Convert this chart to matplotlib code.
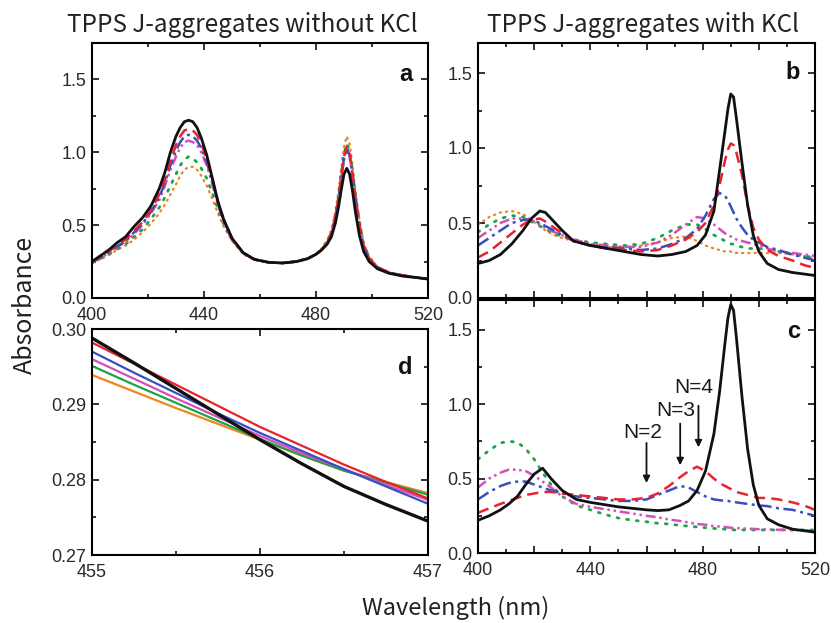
import matplotlib
matplotlib.use("Agg")
import matplotlib.pyplot as plt
from matplotlib.ticker import MultipleLocator, FuncFormatter

plt.rcParams["font.family"] = ["Liberation Sans", "DejaVu Sans"]

# ---- data ----
series_names = ["black", "red", "blue", "magenta", "green", "orange"]

# panel a : without KCl
wl_a = [400, 403, 406, 409, 412, 415, 418, 421, 424, 426,
        428, 430, 431.5, 433, 434.5, 436, 437.5, 439, 441, 443,
        445, 447, 450, 454, 458, 463, 468, 473, 477, 480,
        482, 484, 485.5, 487, 488, 489, 490, 491, 492, 493,
        494, 495.5, 497, 499, 502, 506, 511, 516, 520]
a_black = [0.25, 0.29, 0.33, 0.38, 0.42, 0.49, 0.55, 0.63, 0.75, 0.86,
           1.00, 1.11, 1.17, 1.21, 1.22, 1.21, 1.17, 1.10, 0.98, 0.82,
           0.66, 0.54, 0.41, 0.31, 0.265, 0.245, 0.24, 0.25, 0.27, 0.30,
           0.33, 0.37, 0.42, 0.52, 0.62, 0.74, 0.85, 0.89, 0.85, 0.74,
           0.60, 0.43, 0.32, 0.25, 0.20, 0.17, 0.15, 0.14, 0.13]
a_red = [0.25, 0.285, 0.32, 0.365, 0.40, 0.46, 0.52, 0.60, 0.71, 0.81,
         0.94, 1.05, 1.11, 1.15, 1.16, 1.15, 1.12, 1.06, 0.95, 0.81,
         0.66, 0.54, 0.41, 0.31, 0.265, 0.245, 0.24, 0.25, 0.27, 0.30,
         0.33, 0.38, 0.44, 0.56, 0.68, 0.83, 0.97, 1.04, 0.99, 0.86,
         0.70, 0.50, 0.36, 0.27, 0.21, 0.175, 0.155, 0.14, 0.13]
a_blue = [0.25, 0.28, 0.315, 0.355, 0.39, 0.45, 0.51, 0.59, 0.69, 0.79,
          0.91, 1.01, 1.07, 1.11, 1.12, 1.11, 1.08, 1.03, 0.93, 0.80,
          0.65, 0.53, 0.41, 0.31, 0.265, 0.245, 0.24, 0.25, 0.27, 0.30,
          0.33, 0.38, 0.44, 0.56, 0.68, 0.82, 0.96, 1.03, 0.98, 0.85,
          0.70, 0.50, 0.36, 0.27, 0.21, 0.175, 0.155, 0.14, 0.13]
a_magenta = [0.245, 0.275, 0.31, 0.35, 0.385, 0.44, 0.50, 0.58, 0.67, 0.77,
             0.88, 0.97, 1.03, 1.07, 1.08, 1.07, 1.05, 1.00, 0.91, 0.78,
             0.64, 0.52, 0.40, 0.31, 0.265, 0.245, 0.24, 0.25, 0.27, 0.30,
             0.33, 0.38, 0.44, 0.56, 0.67, 0.81, 0.95, 1.02, 0.97, 0.85,
             0.70, 0.50, 0.36, 0.27, 0.21, 0.175, 0.155, 0.14, 0.13]
a_green = [0.24, 0.27, 0.30, 0.335, 0.37, 0.42, 0.47, 0.54, 0.62, 0.69,
           0.77, 0.85, 0.91, 0.95, 0.97, 0.96, 0.93, 0.89, 0.82, 0.72,
           0.61, 0.51, 0.40, 0.31, 0.265, 0.245, 0.24, 0.25, 0.27, 0.30,
           0.33, 0.39, 0.45, 0.58, 0.70, 0.85, 0.99, 1.06, 1.01, 0.88,
           0.72, 0.52, 0.37, 0.28, 0.21, 0.175, 0.155, 0.14, 0.13]
a_orange = [0.24, 0.265, 0.295, 0.33, 0.36, 0.40, 0.45, 0.51, 0.58, 0.64,
            0.71, 0.78, 0.84, 0.88, 0.90, 0.90, 0.88, 0.84, 0.77, 0.68,
            0.58, 0.49, 0.39, 0.30, 0.26, 0.245, 0.24, 0.25, 0.27, 0.30,
            0.34, 0.40, 0.47, 0.60, 0.73, 0.89, 1.04, 1.11, 1.06, 0.92,
            0.75, 0.54, 0.38, 0.28, 0.215, 0.175, 0.155, 0.14, 0.13]

# panel b : with KCl
wl_b = [400, 404, 408, 412, 416, 419, 422, 424, 427, 430, 434, 440, 446, 452, 458, 464, 469, 474,
        478, 481, 484, 486, 488, 489, 490, 491, 492, 494, 496, 498, 500, 503, 507, 512, 516, 520]
b_black = [0.23, 0.25, 0.29, 0.36, 0.45, 0.53, 0.58, 0.57, 0.51, 0.45, 0.38, 0.35, 0.33, 0.31, 0.29, 0.28, 0.29, 0.31,
           0.35, 0.42, 0.58, 0.85, 1.12, 1.26, 1.36, 1.34, 1.20, 0.90, 0.62, 0.42, 0.31, 0.23, 0.19, 0.17, 0.16, 0.15]
b_red = [0.27, 0.31, 0.37, 0.43, 0.49, 0.52, 0.53, 0.51, 0.47, 0.43, 0.38, 0.35, 0.33, 0.32, 0.31, 0.32, 0.35, 0.39,
         0.44, 0.50, 0.62, 0.75, 0.92, 0.99, 1.03, 1.02, 0.97, 0.82, 0.62, 0.47, 0.39, 0.32, 0.28, 0.25, 0.22, 0.20]
b_blue = [0.35, 0.40, 0.45, 0.50, 0.52, 0.52, 0.50, 0.48, 0.45, 0.42, 0.38, 0.35, 0.34, 0.33, 0.32, 0.33, 0.36, 0.40,
          0.46, 0.55, 0.66, 0.70, 0.68, 0.65, 0.61, 0.57, 0.53, 0.47, 0.42, 0.39, 0.37, 0.34, 0.32, 0.29, 0.27, 0.25]
b_magenta = [0.40, 0.45, 0.50, 0.53, 0.53, 0.52, 0.49, 0.47, 0.44, 0.42, 0.39, 0.36, 0.35, 0.34, 0.34, 0.37, 0.42, 0.49,
             0.54, 0.53, 0.49, 0.46, 0.43, 0.42, 0.41, 0.40, 0.39, 0.38, 0.37, 0.36, 0.35, 0.33, 0.31, 0.30, 0.29, 0.28]
b_green = [0.44, 0.49, 0.53, 0.55, 0.54, 0.51, 0.48, 0.46, 0.43, 0.41, 0.39, 0.37, 0.36, 0.35, 0.36, 0.40, 0.45, 0.49,
           0.49, 0.46, 0.42, 0.40, 0.38, 0.37, 0.36, 0.36, 0.35, 0.34, 0.33, 0.33, 0.33, 0.32, 0.31, 0.29, 0.28, 0.27]
b_orange = [0.49, 0.54, 0.57, 0.58, 0.56, 0.52, 0.48, 0.45, 0.42, 0.40, 0.38, 0.36, 0.34, 0.34, 0.35, 0.37, 0.40, 0.41,
            0.38, 0.35, 0.33, 0.32, 0.31, 0.31, 0.31, 0.30, 0.30, 0.30, 0.30, 0.30, 0.30, 0.30, 0.30, 0.29, 0.28, 0.26]

# panel c : N = 1..4 components
wl_c = [400, 404, 408, 411, 414, 417, 420, 423, 426, 430, 435, 440, 445, 450, 455, 460, 464, 468, 472,
        475, 478, 481, 484, 486, 488, 489, 490, 491, 492, 494, 496, 498, 500, 503, 507, 512, 516, 520]
c_black = [0.22, 0.25, 0.29, 0.33, 0.38, 0.46, 0.53, 0.57, 0.50, 0.42, 0.36, 0.34, 0.325, 0.31, 0.30, 0.29, 0.285, 0.29, 0.32,
           0.35, 0.42, 0.55, 0.80, 1.08, 1.42, 1.58, 1.67, 1.63, 1.45, 1.05, 0.70, 0.46, 0.32, 0.23, 0.19, 0.16, 0.15, 0.14]
c_red = [0.27, 0.30, 0.33, 0.35, 0.37, 0.39, 0.40, 0.41, 0.41, 0.40, 0.39, 0.38, 0.37, 0.36, 0.36, 0.37, 0.40, 0.45, 0.51,
         0.55, 0.58, 0.55, 0.50, 0.47, 0.45, 0.44, 0.43, 0.42, 0.41, 0.40, 0.39, 0.38, 0.37, 0.37, 0.36, 0.34, 0.32, 0.29]
c_blue = [0.36, 0.41, 0.45, 0.47, 0.48, 0.48, 0.46, 0.44, 0.42, 0.40, 0.38, 0.37, 0.36, 0.35, 0.35, 0.36, 0.39, 0.42, 0.45,
          0.44, 0.41, 0.38, 0.36, 0.355, 0.35, 0.35, 0.345, 0.345, 0.34, 0.335, 0.33, 0.325, 0.32, 0.315, 0.30, 0.29, 0.27, 0.25]
c_magenta = [0.44, 0.50, 0.54, 0.56, 0.56, 0.55, 0.52, 0.48, 0.44, 0.38, 0.33, 0.31, 0.295, 0.28, 0.265, 0.25, 0.24, 0.225, 0.215,
             0.205, 0.195, 0.19, 0.18, 0.178, 0.175, 0.172, 0.17, 0.168, 0.167, 0.165, 0.163, 0.162, 0.16, 0.158, 0.156, 0.154, 0.152, 0.15]
c_green = [0.63, 0.69, 0.74, 0.75, 0.745, 0.70, 0.63, 0.54, 0.46, 0.38, 0.32, 0.29, 0.26, 0.235, 0.22, 0.21, 0.20, 0.195, 0.185,
           0.18, 0.175, 0.17, 0.165, 0.162, 0.16, 0.158, 0.156, 0.155, 0.155, 0.155, 0.155, 0.155, 0.155, 0.155, 0.155, 0.155, 0.155, 0.155]

# arrows in panel c: label, x, arrow top, arrow tip, text y
arrow_labels = ["N=2", "N=3", "N=4"]
arrow_x = [460, 472, 478.5]
arrow_top = [0.74, 0.87, 0.99]
arrow_tip = [0.47, 0.59, 0.71]
arrow_text_y = [0.81, 0.96, 1.11]

# panel d : zoom near the isosbestic point
wl_d = [455, 455.25, 455.5, 455.75, 456, 456.25, 456.5, 456.75, 457]
d_black = [0.2988, 0.2955, 0.2921, 0.2887, 0.2853, 0.2821, 0.2791, 0.2767, 0.2745]
d_red = [0.2982, 0.2954, 0.2926, 0.2898, 0.2870, 0.2845, 0.2820, 0.2797, 0.2775]
d_blue = [0.2970, 0.2942, 0.2915, 0.2888, 0.2862, 0.2838, 0.2814, 0.2791, 0.2768]
d_magenta = [0.2960, 0.2934, 0.2908, 0.2883, 0.2858, 0.2835, 0.2814, 0.2793, 0.2773]
d_green = [0.2951, 0.2926, 0.2902, 0.2878, 0.2854, 0.2832, 0.2812, 0.2796, 0.2780]
d_orange = [0.2939, 0.2917, 0.2895, 0.2874, 0.2853, 0.2832, 0.2812, 0.2797, 0.2782]

# ---- styles ----
colores = {"black": "#111111", "red": "#e8232b", "blue": "#3a4fbf",
           "magenta": "#d64fb8", "green": "#1ea24a", "orange": "#f0841e"}
estilos = {
    "black": dict(linestyle="-", linewidth=2.0),
    "red": dict(linestyle=(0, (4.5, 2.5)), linewidth=1.8),
    "blue": dict(linestyle=(0, (5, 1.8, 1.2, 1.8)), linewidth=1.8),
    "magenta": dict(linestyle=(0, (4, 1.5, 1, 1.5, 1, 1.5)), linewidth=1.8),
    "green": dict(linestyle=(0, (0.7, 2.8)), linewidth=2.0, dash_capstyle="round"),
    "orange": dict(linestyle=(0, (0.6, 2.2)), linewidth=1.6, dash_capstyle="round"),
}
dibujo_orden = ["orange", "green", "magenta", "blue", "red", "black"]

W, H = 831, 623
fig = plt.figure(figsize=(W / 100, H / 100), dpi=100)


def caja(x0, y0, x1, y1):
    return [x0 / W, 1 - y1 / H, (x1 - x0) / W, (y1 - y0) / H]


ax_a = fig.add_axes(caja(92, 43, 428, 298))
ax_b = fig.add_axes(caja(478, 43, 815, 298))
ax_c = fig.add_axes(caja(478, 300, 815, 553))
ax_d = fig.add_axes(caja(92, 329, 428, 555))


def estilo_ejes(ax):
    for s in ax.spines.values():
        s.set_linewidth(1.5)
    ax.tick_params(which="both", direction="in", top=True, right=True,
                   labelsize=13, width=1.2, colors="#111111", labelcolor="#2a2a2a")
    ax.tick_params(which="major", length=5)
    ax.tick_params(which="minor", length=3)
    ax.tick_params(axis="y", which="major", pad=4)
    ax.tick_params(axis="x", which="major", pad=6.5)


def cada_40(v, pos):
    return f"{v:.0f}" if round(v) % 40 == 0 else ""


panel_a = dict(zip(series_names, [a_black, a_red, a_blue, a_magenta, a_green, a_orange]))
panel_b = dict(zip(series_names, [b_black, b_red, b_blue, b_magenta, b_green, b_orange]))
panel_c = dict(zip(series_names[:5], [c_black, c_red, c_blue, c_magenta, c_green]))
panel_d = dict(zip(series_names, [d_black, d_red, d_blue, d_magenta, d_green, d_orange]))

for ax, wl, datos in [(ax_a, wl_a, panel_a), (ax_b, wl_b, panel_b), (ax_c, wl_c, panel_c)]:
    for nombre in dibujo_orden:
        if nombre in datos:
            ax.plot(wl, datos[nombre], color=colores[nombre], **estilos[nombre])
    ax.set_xlim(400, 520)
    ax.yaxis.set_major_locator(MultipleLocator(0.5))
    ax.yaxis.set_minor_locator(MultipleLocator(0.25))
    ax.yaxis.set_major_formatter(FuncFormatter(lambda v, p: f"{v:.1f}"))
    estilo_ejes(ax)

ax_a.set_ylim(0, 1.75)
ax_a.xaxis.set_major_locator(MultipleLocator(40))
ax_a.xaxis.set_minor_locator(MultipleLocator(20))
for ax in (ax_b, ax_c):
    ax.set_ylim(0, 1.7)
    ax.xaxis.set_major_locator(MultipleLocator(20))
    ax.xaxis.set_minor_locator(MultipleLocator(10))
    ax.xaxis.set_major_formatter(FuncFormatter(cada_40))
ax_b.tick_params(axis="x", labelbottom=False)

for nombre in dibujo_orden:
    lw = 2.4 if nombre == "black" else 1.6
    ax_d.plot(wl_d, panel_d[nombre], color=colores[nombre], linewidth=lw, linestyle="-")
ax_d.set_xlim(455, 457)
ax_d.set_ylim(0.27, 0.30)
ax_d.xaxis.set_major_locator(MultipleLocator(1))
ax_d.xaxis.set_minor_locator(MultipleLocator(0.5))
ax_d.yaxis.set_major_locator(MultipleLocator(0.01))
ax_d.yaxis.set_minor_locator(MultipleLocator(0.005))
ax_d.yaxis.set_major_formatter(FuncFormatter(lambda v, p: f"{v:.2f}"))
estilo_ejes(ax_d)

# arrows and N labels in panel c
for lab, x, y0, y1, ty in zip(arrow_labels, arrow_x, arrow_top, arrow_tip, arrow_text_y):
    ax_c.annotate("", xy=(x, y1), xytext=(x, y0),
                  arrowprops=dict(arrowstyle="-|>", color="#111111", lw=1.3,
                                  mutation_scale=10, shrinkA=0, shrinkB=0))
    ax_c.text(x - 1.5, ty, lab, ha="center", va="center", fontsize=15, color="#1a1a1a")

# panel letters
for ax, letra, yy in [(ax_a, "a", 0.875), (ax_b, "b", 0.885), (ax_c, "c", 0.875), (ax_d, "d", 0.83)]:
    ax.text(0.955, yy, letra, transform=ax.transAxes, ha="right", va="center",
            fontsize=17, fontweight="bold", color="#111111")

fuente_jp = ["Noto Sans CJK JP", "DejaVu Sans"]
fig.text(242 / W, 1 - 25 / H, "TPPS J-aggregates without KCl", ha="center", va="center",
         fontsize=17.5, family=fuente_jp, color="#222222")
fig.text(643 / W, 1 - 25 / H, "TPPS J-aggregates with KCl", ha="center", va="center",
         fontsize=17.5, family=fuente_jp, color="#222222")
fig.text(25 / W, 1 - 305 / H, "Absorbance", rotation=90, ha="center", va="center",
         fontsize=18, family=fuente_jp, color="#222222")
fig.text(456 / W, 1 - 608 / H, "Wavelength (nm)", ha="center", va="center",
         fontsize=17, family=fuente_jp, color="#222222")

fig.savefig("out.png", dpi=100)
